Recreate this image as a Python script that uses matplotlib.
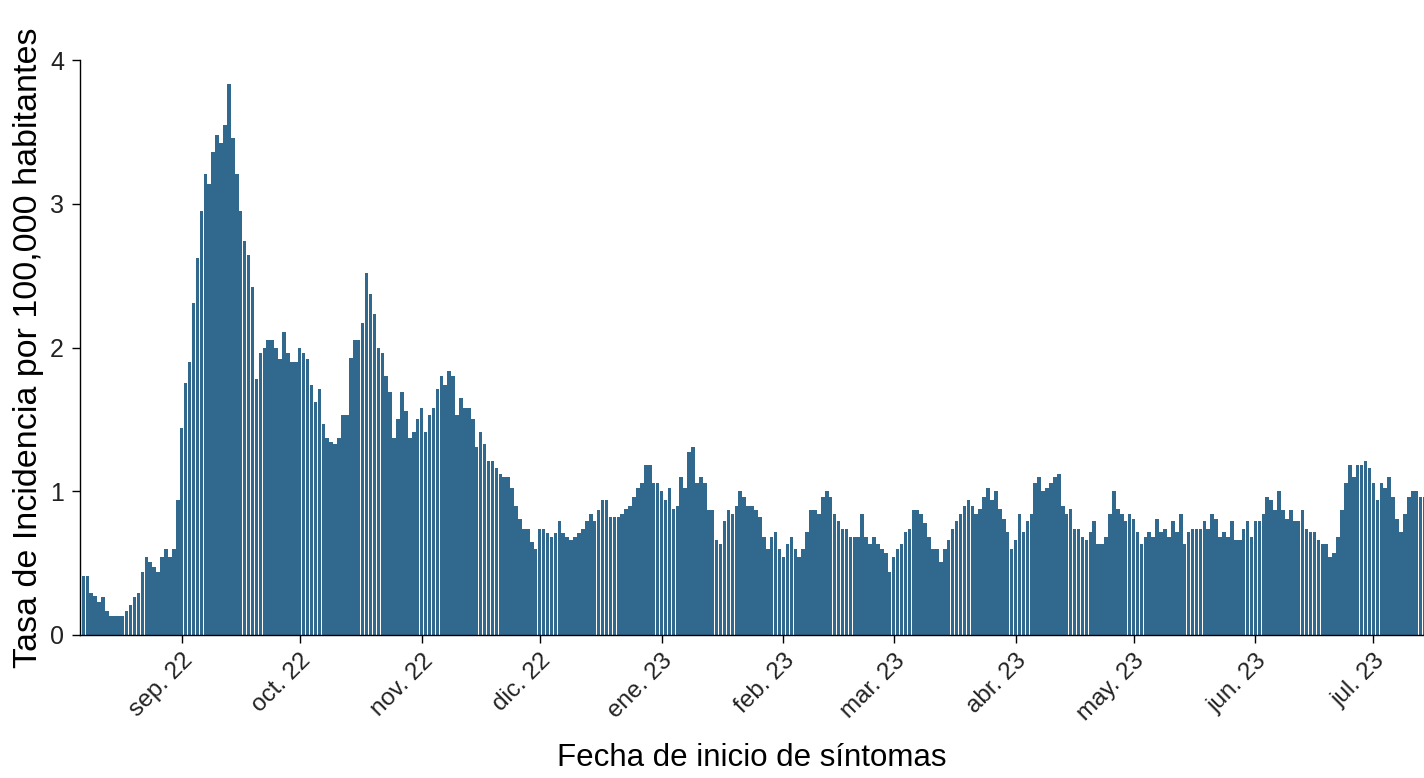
import numpy as np
import pandas as pd
import matplotlib
matplotlib.use('Agg')
import matplotlib.pyplot as plt
import matplotlib.dates as mdates

plt.rcParams['font.family'] = ['Liberation Sans', 'DejaVu Sans']

# tasa diaria por fecha de inicio de sintomas (06/08/2022 - 14/07/2023)
fecha_inicio = '2022-08-06'
ago22 = [0.41, 0.41, 0.41, 0.29, 0.27, 0.23, 0.265, 0.17, 0.13, 0.13, 0.13, 0.13, 0.17,
         0.21, 0.265, 0.29, 0.44, 0.54, 0.51, 0.475, 0.44, 0.54, 0.60, 0.54, 0.60, 0.94]
sep22 = [1.44, 1.75, 1.90, 2.31, 2.62, 2.95, 3.21, 3.14, 3.36, 3.48, 3.42, 3.545, 3.83, 3.46,
         3.21, 2.95, 2.74, 2.645, 2.42, 1.78, 1.96, 2.00, 2.05, 2.05, 2.00, 1.92, 2.11, 1.96,
         1.90, 1.90]
oct22 = [2.00, 1.96, 1.92, 1.74, 1.62, 1.71, 1.47, 1.37, 1.34, 1.33, 1.37, 1.53, 1.53, 1.93,
         2.05, 2.05, 2.17, 2.52, 2.37, 2.23, 2.00, 1.96, 1.80, 1.69, 1.37, 1.50, 1.69, 1.56,
         1.37, 1.41, 1.50]
nov22 = [1.58, 1.41, 1.53, 1.58, 1.71, 1.80, 1.74, 1.84, 1.80, 1.53, 1.65, 1.58, 1.58, 1.50,
         1.31, 1.41, 1.33, 1.21, 1.21, 1.16, 1.12, 1.10, 1.10, 1.02, 0.90, 0.81, 0.74, 0.74,
         0.65, 0.60]
dic22 = [0.74, 0.74, 0.71, 0.68, 0.71, 0.79, 0.71, 0.68, 0.66, 0.68, 0.71, 0.74, 0.79, 0.84,
         0.79, 0.87, 0.94, 0.94, 0.82, 0.82, 0.82, 0.84, 0.88, 0.90, 0.96, 1.02, 1.06, 1.18,
         1.18, 1.06, 1.06]
ene23 = [1.00, 0.94, 1.02, 0.88, 0.90, 1.10, 1.02, 1.27, 1.31, 1.06, 1.10, 1.06, 0.87, 0.87,
         0.66, 0.63, 0.79, 0.87, 0.84, 0.90, 1.00, 0.96, 0.90, 0.90, 0.87, 0.82, 0.68, 0.60,
         0.68, 0.72, 0.60]
feb23 = [0.54, 0.63, 0.68, 0.60, 0.54, 0.60, 0.72, 0.87, 0.87, 0.84, 0.96, 1.00, 0.96, 0.84,
         0.79, 0.74, 0.74, 0.68, 0.68, 0.68, 0.84, 0.68, 0.63, 0.68, 0.63, 0.60, 0.57, 0.44]
mar23 = [0.54, 0.60, 0.63, 0.72, 0.74, 0.87, 0.87, 0.84, 0.78, 0.68, 0.60, 0.60, 0.51, 0.60,
         0.66, 0.74, 0.79, 0.84, 0.90, 0.94, 0.90, 0.84, 0.88, 0.96, 1.02, 0.94, 1.00, 0.88,
         0.81, 0.72, 0.60]
abr23 = [0.66, 0.84, 0.72, 0.79, 0.84, 1.06, 1.10, 1.00, 1.02, 1.06, 1.10, 1.12, 0.90, 0.84,
         0.88, 0.74, 0.74, 0.68, 0.66, 0.72, 0.79, 0.63, 0.63, 0.68, 0.84, 1.00, 0.88, 0.84,
         0.79, 0.84]
may23 = [0.81, 0.72, 0.63, 0.68, 0.72, 0.68, 0.81, 0.72, 0.74, 0.68, 0.79, 0.72, 0.84, 0.63,
         0.72, 0.74, 0.74, 0.74, 0.79, 0.74, 0.84, 0.81, 0.68, 0.72, 0.68, 0.79, 0.66, 0.66,
         0.74, 0.79, 0.68]
jun23 = [0.79, 0.79, 0.84, 0.96, 0.94, 0.87, 1.00, 0.87, 0.81, 0.87, 0.79, 0.79, 0.87, 0.74,
         0.72, 0.72, 0.66, 0.63, 0.63, 0.54, 0.57, 0.68, 0.87, 1.06, 1.18, 1.10, 1.18, 1.18,
         1.21, 1.16]
jul23 = [1.06, 0.94, 1.06, 1.02, 1.10, 0.96, 0.81, 0.72, 0.84, 0.96, 1.00, 1.00, 0.96, 0.96]

tasa = np.array(ago22 + sep22 + oct22 + nov22 + dic22 + ene23 + feb23 + mar23 +
                abr23 + may23 + jun23 + jul23)
fechas = pd.date_range(fecha_inicio, periods=len(tasa), freq='D')

meses = pd.date_range('2022-09-01', '2023-07-01', freq='MS')
etiquetas = ['sep. 22', 'oct. 22', 'nov. 22', 'dic. 22', 'ene. 23', 'feb. 23',
             'mar. 23', 'abr. 23', 'may. 23', 'jun. 23', 'jul. 23']

color_barras = '#31688E'

fig = plt.figure(figsize=(14.24, 7.78), dpi=100)
ax = fig.add_axes([80 / 1424, 1 - 635 / 778, 1344 / 1424, 575 / 778])

ax.bar(fechas, tasa, width=0.9, color=color_barras, linewidth=0, antialiased=False)

ref = mdates.date2num(pd.Timestamp('2022-09-01'))
ax.set_xlim(ref - 25.86, ref + 315.85)
ax.set_ylim(0, 4)
ax.set_yticks([0, 1, 2, 3, 4])

ax.set_xticks(meses)
ax.set_xticklabels(etiquetas, rotation=45, ha='right', va='top', rotation_mode='anchor')

for lado in ['top', 'right']:
    ax.spines[lado].set_visible(False)
for lado in ['left', 'bottom']:
    ax.spines[lado].set_linewidth(1.0)
    ax.spines[lado].set_color('black')

ax.tick_params(axis='both', direction='out', length=5.5, width=1.0, colors='black',
               labelcolor='#222222')
ax.tick_params(axis='x', labelsize=17.5, pad=5)
ax.tick_params(axis='y', labelsize=18, pad=6)

ax.set_xlabel('Fecha de inicio de síntomas', fontsize=22.5)
ax.set_ylabel('Tasa de Incidencia por 100,000 habitantes', fontsize=24.5)
ax.xaxis.set_label_coords(0.5, -0.188)
ax.yaxis.set_label_coords(-0.0268, 0.5)

fig.savefig('out.png', dpi=100)
